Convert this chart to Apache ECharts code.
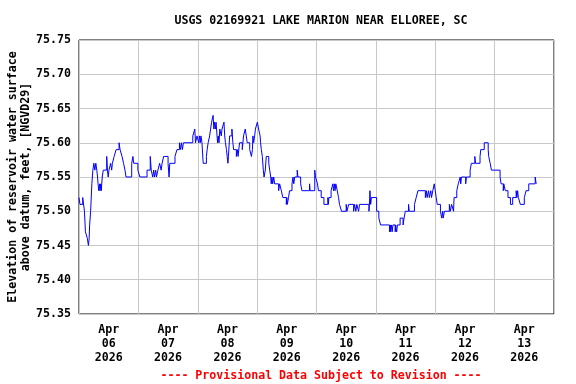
<!DOCTYPE html>
<html>
<head>
<meta charset="utf-8">
<script src="https://cdn.jsdelivr.net/npm/echarts@6/dist/echarts.min.js"></script>
<style>
html,body{margin:0;padding:0;background:#fff;}
#chart{width:576px;height:384px;}
</style>
</head>
<body>
<div id="chart"></div>
<script>
// Title / footer text
var titleText = 'USGS 02169921 LAKE MARION NEAR ELLOREE, SC';
var footerText = '---- Provisional Data Subject to Revision ----';
var yAxisName = 'Elevation of reservoir water surface\nabove datum, feet, [NGVD29]';

// Day labels (each band = one day starting Apr 06 00:00)
var dayLabels = ['Apr\n06\n2026','Apr\n07\n2026','Apr\n08\n2026','Apr\n09\n2026',
                 'Apr\n10\n2026','Apr\n11\n2026','Apr\n12\n2026','Apr\n13\n2026'];

// Y axis ticks
var yMin = 75.35, yMax = 75.75, yStep = 0.05;

// Observation change points: hours since Apr 06 00:00, and gage height (ft)
var hours = [
 0,0.4,1.5,2.2,2.6,3.4,3.8,4.1,4.3,4.7,5.2,5.6,6.0,6.4,6.8,7.2,7.5,7.7,8.0,8.3,8.5,8.8,9.0,9.4,9.8,
 11.2,11.5,11.8,12.1,12.8,13.2,13.5,14.2,15.0,16.2,16.6,17.4,18.0,18.6,19.0,21.3,21.8,22.1,23.8,
 24.6,27.5,28.8,29.2,29.8,30.2,30.5,31.0,31.3,31.9,32.6,33.2,33.6,34.2,36.0,36.4,36.7,38.8,39.6,
 40.6,41.0,41.4,41.8,42.2,46.0,46.8,47.1,47.7,
 48.4,48.7,49.0,49.3,49.7,50.2,51.5,51.8,52.2,52.8,53.2,53.6,54.2,54.5,54.8,55.1,55.4,55.8,56.0,
 56.3,56.6,56.9,57.5,57.8,58.6,58.9,59.2,59.6,60.2,60.4,60.9,61.8,62.2,62.5,63.6,64.0,64.3,64.9,
 66.0,66.5,67.2,67.6,68.0,69.0,69.7,70.1,70.3,70.6,71.0,71.3,
 72.1,72.6,73.2,73.4,73.7,74.1,74.5,74.8,75.3,75.7,76.7,77.1,77.5,77.7,78.0,78.3,78.7,79.1,80.7,
 81.1,81.8,82.4,83.8,84.0,84.2,84.7,85.1,86.1,86.5,86.8,87.2,88.2,88.5,89.6,90.1,93.2,93.4,95.3,
 95.6,96.4,96.8,
 97.9,99.0,100.6,100.8,101.0,101.9,102.6,102.9,103.2,103.5,103.8,104.4,104.9,105.3,106.1,108.0,
 108.3,109.0,111.0,111.4,111.9,112.3,113.0,113.4,117.2,117.4,117.6,117.9,118.2,
 120.3,121.2,121.9,125.5,125.8,126.0,126.3,126.6,126.9,127.8,128.0,128.4,128.7,129.8,131.0,131.4,
 131.9,133.2,133.5,135.6,136.3,137.0,140.0,140.4,140.7,141.3,141.6,142.2,142.5,143.0,143.6,144.0,
 144.4,144.8,
 146.1,146.6,147.0,147.2,147.7,149.7,150.1,150.6,151.4,151.6,152.7,153.3,154.1,154.3,154.6,156.3,
 156.6,158.1,158.6,160.0,160.3,162.1,162.4,163.8,165.4,165.6,166.2,166.7,
 170.2,170.6,171.5,171.7,172.3,173.4,174.4,175.3,176.7,177.0,177.3,177.6,178.4,180.0,180.7,181.8,
 184.4,184.8,185.0
];
var levels = [
 75.52,75.51,75.52,75.50,75.47,75.46,75.45,75.46,75.48,75.50,75.54,75.56,75.57,75.56,75.57,75.56,75.55,75.54,75.53,75.54,75.53,75.54,75.53,75.55,75.56,
 75.58,75.56,75.55,75.56,75.57,75.56,75.57,75.58,75.59,75.60,75.59,75.58,75.57,75.56,75.55,75.57,75.58,75.57,75.56,
 75.55,75.56,75.58,75.56,75.55,75.56,75.55,75.56,75.55,75.56,75.57,75.56,75.57,75.58,75.57,75.55,75.57,75.58,75.59,
 75.60,75.59,75.60,75.59,75.60,75.61,75.62,75.60,75.61,
 75.60,75.61,75.60,75.61,75.60,75.57,75.58,75.59,75.60,75.61,75.62,75.63,75.64,75.62,75.63,75.62,75.63,75.61,75.60,
 75.61,75.60,75.62,75.61,75.62,75.63,75.61,75.60,75.59,75.57,75.58,75.61,75.62,75.60,75.59,75.58,75.59,75.58,75.60,
 75.59,75.61,75.62,75.61,75.60,75.59,75.58,75.59,75.61,75.60,75.61,75.62,
 75.63,75.62,75.61,75.60,75.59,75.58,75.56,75.55,75.56,75.58,75.57,75.56,75.55,75.54,75.55,75.54,75.55,75.54,75.53,
 75.54,75.53,75.52,75.51,75.52,75.51,75.52,75.53,75.54,75.55,75.54,75.55,75.56,75.55,75.54,75.53,75.54,75.53,75.56,
 75.55,75.54,75.53,
 75.52,75.51,75.52,75.51,75.52,75.53,75.54,75.53,75.54,75.53,75.54,75.53,75.52,75.51,75.50,75.51,
 75.50,75.51,75.50,75.51,75.50,75.51,75.50,75.51,75.50,75.51,75.53,75.51,75.52,
 75.50,75.49,75.48,75.47,75.48,75.47,75.48,75.47,75.48,75.47,75.48,75.47,75.48,75.49,75.48,75.49,
 75.50,75.51,75.50,75.51,75.52,75.53,75.52,75.53,75.52,75.53,75.52,75.53,75.52,75.53,75.54,75.53,
 75.52,75.51,
 75.50,75.49,75.50,75.49,75.50,75.51,75.50,75.51,75.50,75.52,75.53,75.54,75.55,75.54,75.55,75.54,
 75.55,75.56,75.57,75.58,75.57,75.58,75.59,75.60,75.59,75.58,75.57,75.56,
 75.55,75.54,75.53,75.54,75.53,75.52,75.51,75.52,75.53,75.52,75.53,75.52,75.51,75.52,75.53,75.54,
 75.55,75.54,75.54
];

var seriesData = hours.map(function (h, i) { return [h, levels[i]]; });
var font = '"DejaVu Sans Mono", monospace';

var chart = echarts.init(document.getElementById('chart'), null, {renderer: 'canvas'});
chart.setOption({
  animation: false,
  backgroundColor: '#ffffff',
  title: [
    {text: titleText, left: 316, textAlign: 'center', top: 10,
     textStyle: {fontFamily: font, fontSize: 11.6, fontWeight: 'bold', color: '#000'}},
    {text: footerText, left: 316, textAlign: 'center', top: 365,
     textStyle: {fontFamily: font, fontSize: 11.6, fontWeight: 'bold', color: '#ff0000'}}
  ],
  graphic: [{
    type: 'text', x: 19, y: 177, rotation: Math.PI / 2,
    style: {text: yAxisName, fontFamily: font, fontSize: 11.6, fontWeight: 'bold',
            fill: '#000', align: 'center', verticalAlign: 'middle', lineHeight: 13}
  }],
  grid: {left: 79, right: 22, top: 40, bottom: 70, show: true, containLabel: false,
         outerBoundsMode: 'none',
         borderColor: '#000', borderWidth: 1, backgroundColor: 'transparent'},
  xAxis: [
    {type: 'value', min: 0, max: 192, interval: 24,
     axisLine: {show: false}, axisTick: {show: false}, axisLabel: {show: false},
     splitLine: {show: true, lineStyle: {color: '#c8c8c8', width: 1}}},
    {type: 'category', data: dayLabels, position: 'bottom', boundaryGap: true,
     axisLine: {show: false}, axisTick: {show: false}, splitLine: {show: false},
     axisLabel: {show: true, interval: 0, margin: 9, lineHeight: 14,
       fontFamily: font, fontSize: 11.6, fontWeight: 'bold', color: '#000'}}
  ],
  yAxis: {
    type: 'value', min: yMin, max: yMax, interval: yStep,
    axisLine: {show: false}, axisTick: {show: false},
    axisLabel: {margin: 8, fontFamily: font, fontSize: 11.6, fontWeight: 'bold', color: '#000',
      formatter: function (v) { return v.toFixed(2); }},
    splitLine: {show: true, lineStyle: {color: '#c8c8c8', width: 1}}
  },
  series: [{
    type: 'line', xAxisIndex: 0, data: seriesData, step: 'end',
    showSymbol: false, symbol: 'none',
    lineStyle: {color: '#0000ff', width: 1},
    itemStyle: {color: '#0000ff'}
  }]
});
</script>
</body>
</html>
